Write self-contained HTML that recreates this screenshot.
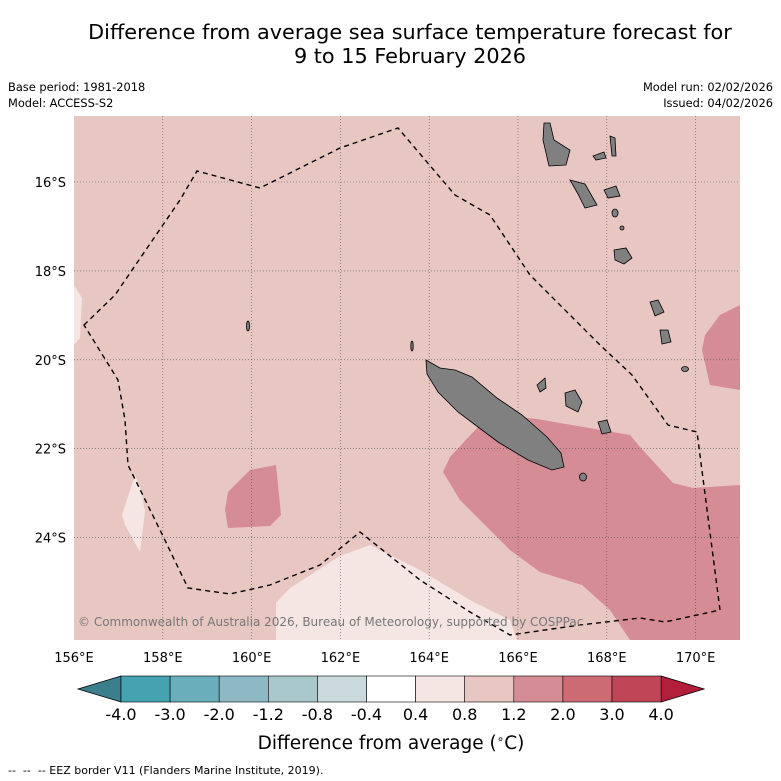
<!DOCTYPE html>
<html><head><meta charset="utf-8"><style>
body{margin:0;background:#fff;font-family:"DejaVu Sans","Liberation Sans",sans-serif}
svg{display:block}
</style></head><body>
<svg width="781" height="781" viewBox="0 0 781 781" font-family="DejaVu Sans, Liberation Sans, sans-serif">
<text x="410" y="39" font-size="20.8" text-anchor="middle">Difference from average sea surface temperature forecast for</text>
<text x="410" y="63" font-size="20.8" text-anchor="middle">9 to 15 February 2026</text>
<text x="8" y="91" font-size="11.4">Base period: 1981-2018</text>
<text x="8" y="107" font-size="11.4">Model: ACCESS-S2</text>
<text x="773" y="91" font-size="11.4" text-anchor="end">Model run: 02/02/2026</text>
<text x="773" y="107" font-size="11.4" text-anchor="end">Issued: 04/02/2026</text>
<g>
<rect x="74" y="116" width="666" height="524" fill="#e8c6c2"/>
<polygon fill="#d58c94" points="443,472 450,457 477,428 500,415 537,419 630,435 640,447 673,483 693,488 740,485 740,640 630,640 610,610 582,585 540,572 510,550 460,500"/>
<polygon fill="#d58c94" points="705,335 720,315 740,305 740,390 710,385 702,350"/>
<polygon fill="#d58c94" points="228,492 250,470 276,465 281,515 270,526 228,528 225,510"/>
<polygon fill="#f5e6e4" points="276,603 290,588 340,556 370,545 420,570 470,600 510,620 517,640 276,640"/>
<polygon fill="#f5e6e4" points="122,515 135,475 141,490 145,512 140,552 125,525"/>
<polygon fill="#f5e6e4" points="74,285 82,298 80,338 74,345"/>
<g id="grid" stroke="#555" stroke-width="0.6" stroke-dasharray="1,2"></g>
<g fill="#808080" stroke="#000" stroke-width="0.8">
<polygon points="426,360 440,368 455,370 472,377 497,398 522,415 547,437 561,453 564,467 552,470 528,460 498,442 478,427 458,412 438,392 427,374"/>
<polygon points="544,123 550,123 554,140 570,150 566,165 549,166 543,140"/>
<polygon points="570,180 585,184 597,205 585,208 578,194"/>
<polygon points="614,250 626,248 632,258 624,264 615,260"/>
<polygon points="565,393 575,390 582,402 578,412 566,406"/>
<polygon points="598,422 607,420 611,432 602,434"/>
<polygon points="537,385 545,378 546,388 540,392"/>
<polygon points="650,302 658,300 664,312 655,316"/>
<polygon points="660,330 668,330 671,342 662,344"/>
<polygon points="604,190 616,186 620,196 608,198"/>
<polygon points="610,136 615,138 616,156 612,156"/>
<polygon points="593,156 604,152 606,158 596,160"/>
<ellipse cx="583" cy="477" rx="3.5" ry="4"/>
<ellipse cx="685" cy="369" rx="3.5" ry="2.5"/>
<ellipse cx="248" cy="326" rx="1.5" ry="5"/>
<ellipse cx="615" cy="213" rx="3" ry="4"/>
<ellipse cx="622" cy="228" rx="2" ry="2"/>
<ellipse cx="412" cy="346" rx="1.2" ry="5"/>
</g>
<polygon fill="none" stroke="#000" stroke-width="1.4" stroke-dasharray="5,4" points="84,325 115,295 180,200 197,171 260,188 340,148 398,128 455,195 490,215 530,275 570,315 600,345 632,375 668,425 697,432 720,610 665,622 640,618 580,625 510,635 470,612 420,580 360,532 320,565 270,585 230,594 188,588 160,530 128,465 125,420 118,380 84,325"/>
<text x="78" y="626" font-size="12" fill="#777">© Commonwealth of Australia 2026, Bureau of Meteorology, supported by COSPPac</text>
</g>
<g id="axes" font-size="13"></g>
<g id="cbar"></g>
<text x="391" y="749" font-size="18.5" text-anchor="middle">Difference from average (<tspan font-size="12" dy="-6">∘</tspan><tspan dy="6">C)</tspan></text>
<text x="8" y="774" font-size="11" xml:space="preserve">--  --  -- EEZ border V11 (Flanders Marine Institute, 2019).</text>
</svg>
<script>
const lonTicks=[156,158,160,162,164,166,168,170];
const latTicks=[16,18,20,22,24];
const levels=["-4.0","-3.0","-2.0","-1.2","-0.8","-0.4","0.4","0.8","1.2","2.0","3.0","4.0"];
const levelColors=["#45a2b1","#6aaebb","#8cb9c4","#a9c8cc","#cadadc","#ffffff","#f5e6e4","#e8c6c2","#d58c94","#cd6b75","#c04556"];
const extColors=["#3b7f8c","#b11f3a"];
const NS="http://www.w3.org/2000/svg";
const x0=74,y0=116,x1=740,y1=640;
const xs=lon=>x0+(lon-156)*44.4;
const ys=lat=>182+(lat-16)*44.45;
function mk(t,a,p){const e=document.createElementNS(NS,t);for(const k in a)e.setAttribute(k,a[k]);p.appendChild(e);return e;}
const grid=document.getElementById('grid'),axes=document.getElementById('axes'),cb=document.getElementById('cbar');
lonTicks.forEach(l=>{const x=xs(l);
 if(x>x0+1){const g=mk('line',{x1:x,x2:x,y1:y0,y2:y1},grid);
 
 }
 const t=mk('text',{x:x,y:662,'text-anchor':'middle'},axes);t.textContent=l+'°E';
 
 });
latTicks.forEach(l=>{const y=ys(l);
 const g=mk('line',{x1:x0,x2:x1,y1:y,y2:y},grid);
 
 
 const t=mk('text',{x:66,y:y+5,'text-anchor':'end'},axes);t.textContent=l+'°S';
 
 });
const cx0=121,cw=49.1,cy=676,ch=26;
const n=levelColors.length;
const lt=mk('polygon',{points:`78,${cy+ch/2} ${cx0},${cy} ${cx0},${cy+ch}`,fill:extColors[0],stroke:'#000','stroke-width':0.8},cb);


const xe=cx0+n*cw;
const rt=mk('polygon',{points:`${xe},${cy} ${xe+43},${cy+ch/2} ${xe},${cy+ch}`,fill:extColors[1],stroke:'#000','stroke-width':0.8},cb);


levelColors.forEach((c,i)=>{const r=mk('rect',{x:cx0+i*cw,y:cy,width:cw,height:ch,fill:c,stroke:'#000','stroke-width':0.6},cb);
 
 });
levels.forEach((v,i)=>{const t=mk('text',{x:cx0+i*cw,y:720,'text-anchor':'middle','font-size':16},cb);t.textContent=v;
 
 });
</script>
</body></html>
